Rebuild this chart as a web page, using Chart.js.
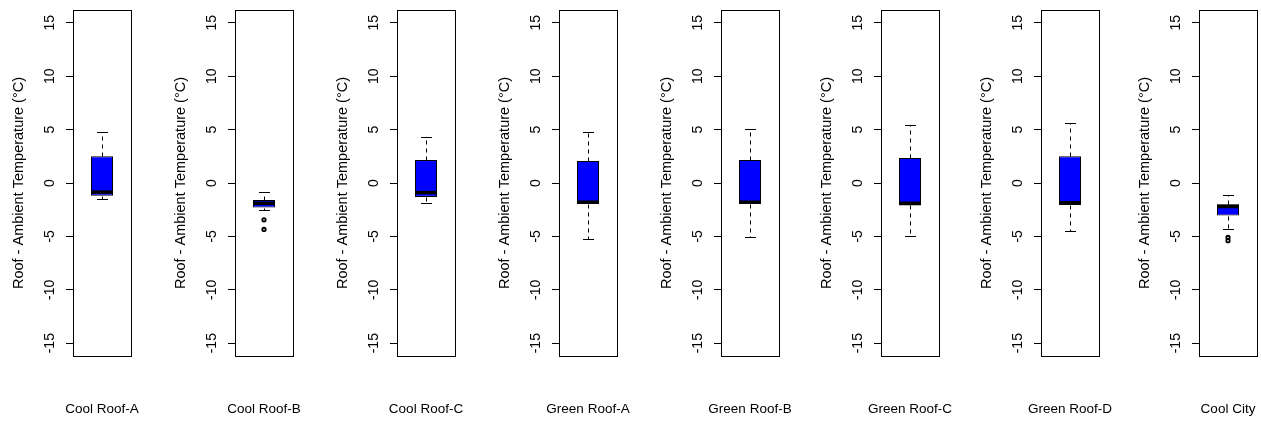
<!DOCTYPE html>
<html>
<head>
<meta charset="utf-8">
<script src="https://cdn.jsdelivr.net/npm/chart.js@4.4.1/dist/chart.umd.min.js"></script>
<style>
  html, body { margin: 0; padding: 0; background: #fff; overflow: hidden; }
  #wrap { position: relative; width: 1261px; height: 425px; }
  .panel { position: absolute; top: 0; width: 160px; height: 425px; }
</style>
</head>
<body>
<div id="wrap"></div>
<script>
// Box plot summaries, one entry per roof
const categories = ["Cool Roof-A", "Cool Roof-B", "Cool Roof-C", "Green Roof-A", "Green Roof-B", "Green Roof-C", "Green Roof-D", "Cool City"];
const whiskerLow  = [-1.5, -2.5, -1.9, -5.2, -5.1, -5.0, -4.5, -4.3];
const q1          = [-1.2, -2.3, -1.3, -1.95, -1.95, -2.1, -2.05, -3.05];
const median      = [-0.85, -1.9, -0.9, -1.8, -1.8, -1.9, -1.85, -2.2];
const q3          = [2.5, -1.6, 2.15, 2.05, 2.15, 2.35, 2.5, -2.0];
const whiskerHigh = [4.75, -0.85, 4.35, 4.8, 5.05, 5.45, 5.6, -1.15];
const outliers    = [[], [-3.45, -4.35], [], [], [], [], [], [-5.1, -5.4]];

const yTicks = [-15, -10, -5, 0, 5, 10, 15];
const yTitle = "Roof - Ambient Temperature (°C)";

// left edge of each plot frame (px)
const frameLeft = [73, 235, 397, 559, 721, 881, 1041, 1199];

Chart.defaults.font.family = "'Liberation Sans', Arial, sans-serif";
Chart.defaults.font.size = 14;
Chart.defaults.color = "#000";

// whiskers, caps and median line, placed with the chart scales
const boxParts = {
  id: "boxParts",
  afterDatasetsDraw(chart, args, opts) {
    const i = opts.index;
    const { ctx, scales: { y } } = chart;
    const bar = chart.getDatasetMeta(0).data[0];
    const cx = Math.round(bar.x) + 0.5;
    const half = bar.width / 2;
    const cap = half / 2;
    const py = v => Math.round(y.getPixelForValue(v)) + 0.5;

    const seg = (x1, y1, x2, y2) => {
      ctx.beginPath();
      ctx.moveTo(x1, y1);
      ctx.lineTo(x2, y2);
      ctx.stroke();
    };

    ctx.save();
    ctx.strokeStyle = "#000";
    ctx.lineWidth = 1;
    ctx.setLineDash([4, 4]);
    seg(cx, py(q3[i]), cx, py(whiskerHigh[i]));
    seg(cx, py(q1[i]), cx, py(whiskerLow[i]));
    ctx.setLineDash([]);
    seg(cx - cap, py(whiskerHigh[i]), cx + cap, py(whiskerHigh[i]));
    seg(cx - cap, py(whiskerLow[i]), cx + cap, py(whiskerLow[i]));

    ctx.lineWidth = 3.5;
    const ym = y.getPixelForValue(median[i]);
    seg(bar.x - half, ym, bar.x + half, ym);
    ctx.restore();
  }
};

// plot frame
const frame = {
  id: "frame",
  afterDraw(chart) {
    const { ctx, chartArea: a } = chart;
    ctx.save();
    ctx.strokeStyle = "#000";
    ctx.lineWidth = 1;
    ctx.strokeRect(Math.round(a.left) + 0.5, Math.round(a.top) + 0.5,
      Math.round(a.right - a.left), Math.round(a.bottom - a.top));
    ctx.restore();
  }
};

const wrap = document.getElementById("wrap");

categories.forEach((name, i) => {
  const div = document.createElement("div");
  div.className = "panel";
  div.style.left = (frameLeft[i] - 73) + "px";
  const canvas = document.createElement("canvas");
  canvas.width = 160;
  canvas.height = 425;
  div.appendChild(canvas);
  wrap.appendChild(div);

  new Chart(canvas.getContext("2d"), {
    type: "bar",
    data: {
      labels: [name],
      datasets: [{
        data: [[q1[i], q3[i]]],
        backgroundColor: "#0000ff",
        borderColor: "#000",
        borderWidth: 1,
        borderSkipped: false,
        barPercentage: 0.38,
        categoryPercentage: 1
      }, {
        type: "line",
        data: outliers[i].map(v => ({ x: name, y: v })),
        showLine: false,
        pointRadius: 1.7,
        pointBorderWidth: 1.8,
        pointBorderColor: "#000",
        pointBackgroundColor: "rgba(0,0,0,0)"
      }]
    },
    options: {
      responsive: false,
      devicePixelRatio: 1,
      animation: false,
      events: [],
      layout: { padding: { left: 0, right: 29, top: 10, bottom: 0 } },
      plugins: {
        legend: { display: false },
        tooltip: { enabled: false },
        boxParts: { index: i }
      },
      scales: {
        x: {
          grid: { display: false },
          border: { display: false },
          ticks: { autoSkip: false, minRotation: 0, maxRotation: 0, padding: 37, font: { size: 13.5 } },
          afterFit: s => { s.height = 69; s.paddingLeft = 0; s.paddingRight = 0; }
        },
        y: {
          min: -16.2,
          max: 16.2,
          afterBuildTicks: s => { s.ticks = yTicks.map(v => ({ value: v })); },
          grid: { drawOnChartArea: false, drawTicks: true, tickLength: 7, color: "#000", lineWidth: 1 },
          border: { display: false },
          ticks: { minRotation: 90, maxRotation: 90, crossAlign: "center", padding: 5.5 },
          title: { display: true, text: yTitle, font: { size: 14.5 }, padding: { top: 10, bottom: 0 } },
          afterFit: s => { s.width = 73; s.paddingTop = 0; s.paddingBottom = 0; }
        }
      }
    },
    plugins: [boxParts, frame]
  });
});
</script>
</body>
</html>
